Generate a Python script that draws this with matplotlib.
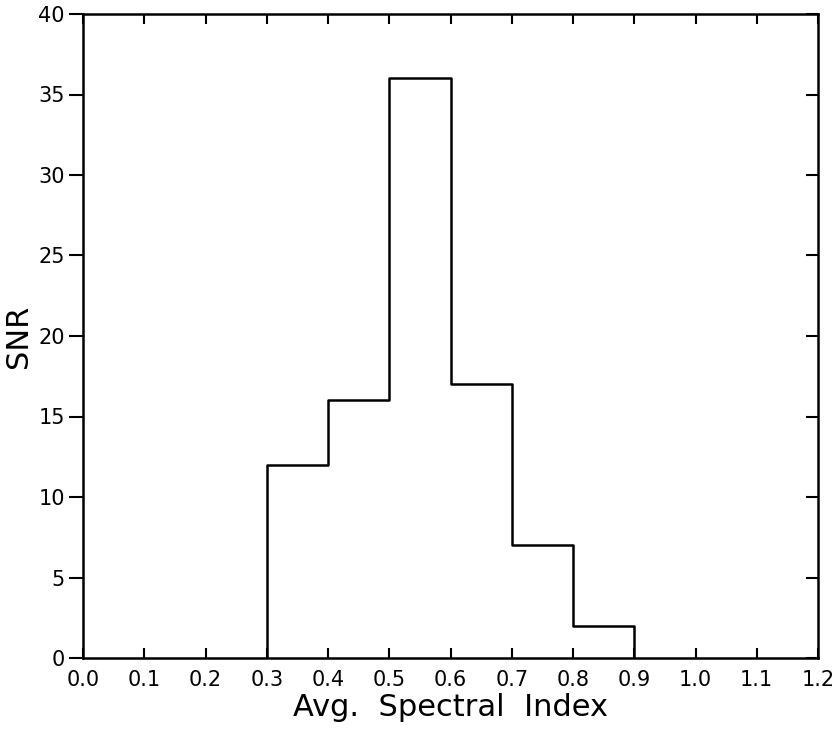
import numpy as np
import matplotlib.pyplot as plt

plt.rcParams['font.family'] = ['DejaVu Sans']

# histogram bin edges and SNR values
bin_edges = [0.3, 0.4, 0.5, 0.6, 0.7, 0.8, 0.9]
snr_values = [12, 16, 36, 17, 7, 2]
x_ticks = [0.0, 0.1, 0.2, 0.3, 0.4, 0.5, 0.6, 0.7, 0.8, 0.9, 1.0, 1.1, 1.2]
y_ticks = [0, 5, 10, 15, 20, 25, 30, 35, 40]

fig = plt.figure(figsize=(8.34, 7.29), dpi=100)
ax = fig.add_axes([83 / 834, 1 - 658 / 729, (818 - 83) / 834, (658 - 14) / 729])

# stepped outline of the histogram, dropping to zero at both ends
xs = [bin_edges[0]] + list(np.repeat(bin_edges, 2)[1:-1]) + [bin_edges[-1]]
ys = [0] + list(np.repeat(snr_values, 2)) + [0]
ax.plot(xs, ys, color='black', linewidth=1.8)

ax.set_xlim(0.0, 1.2)
ax.set_ylim(0, 40)
ax.set_xticks(x_ticks)
ax.set_xticklabels([f"{v:.1f}" for v in x_ticks])
ax.set_yticks(y_ticks)

for side in ax.spines.values():
    side.set_linewidth(1.8)

ax.tick_params(axis='x', direction='in', length=7, width=1.5, top=True,
               labelsize=15, pad=9)
ax.tick_params(axis='y', direction='out', length=10, width=1.5,
               labelsize=15, pad=3, right=True)
# right-hand ticks point inward
for t in ax.yaxis.get_ticklines()[1::2]:
    t.set_marker(0)
    t.set_markersize(9)

ax.set_xlabel("Avg.  Spectral  Index", fontsize=22, labelpad=2)
ax.set_ylabel("SNR", fontsize=22, labelpad=4)

fig.savefig("out.png", dpi=100)
